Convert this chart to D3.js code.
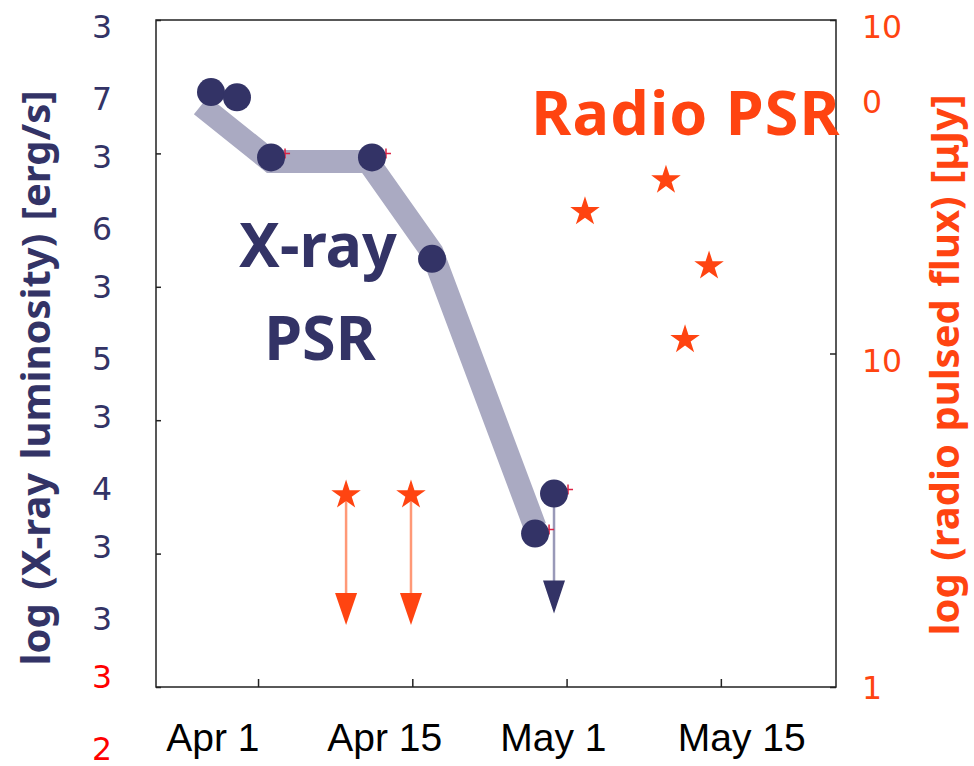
<!DOCTYPE html>
<html>
<head>
<meta charset="utf-8">
<script src="https://cdn.jsdelivr.net/npm/d3@7"></script>
<style>
  html, body { margin: 0; padding: 0; background: #fff; }
  svg { display: block; }
</style>
</head>
<body>
<div class="chart"></div>
<script>
// data, days since Apr 1
const xrayDay = [-4.27, -1.91, 1.18, 10.34, 15.79, 25.14];
const xrayLogL = [36.46, 36.42, 35.97, 35.97, 35.21, 33.15];
const xrayLimitDay = [26.86];
const xrayLimitLogL = [33.45];
const modelDay = [-5.17, 1.18, 9.98, 15.79, 25.14];
const modelLogL = [36.36, 35.94, 35.94, 35.26, 33.2];
const radioDay = [29.67, 37.02, 40.93, 38.75];
const radioFlux = [26.6, 33.1, 18.3, 11.0];
const radioLimitDay = [7.99, 13.88];
const radioLimitFlux = [3.79, 3.79];

// tick labels
const xTickDays = [0, 14, 28, 42];
const xTickLabels = ["Apr 1", "Apr 15", "May 1", "May 15"];
const xLabelDays = [-4.1, 11.5, 26.8, 43.9];
const leftTicks = [37, 36, 35, 34, 33, 32];
const rightTicks = [100, 10, 1];

// setup chart
const width = 974;
const height = 766;
const plot = { left: 156, right: 836, top: 20, bottom: 687 };
const navy = "#333366";
const orange = "#ff4411";

const svg = d3.select(".chart")
   .append("svg")
   .attr("width", width)
   .attr("height", height);

const x = d3.scaleLinear().domain([-9.26, 52.45]).range([plot.left, plot.right]);
const yL = d3.scaleLinear().domain([32, 37]).range([plot.bottom, plot.top]);
const yR = d3.scaleLog().domain([1, 100]).range([plot.bottom, plot.top]);
// the left labels sit on a slightly tighter spacing than the ticks
const yLabel = d3.scaleLinear().domain([37, 32]).range([27, 677]);

// model band
svg.append("path")
   .datum(modelDay.map((d, i) => [d, modelLogL[i]]))
   .attr("d", d3.line().x((d) => x(d[0])).y((d) => yL(d[1])))
   .attr("fill", "none")
   .attr("stroke", "#aaaac2")
   .attr("stroke-width", 23)
   .attr("stroke-linejoin", "miter");

// radio upper limits
const rl = svg.append("g");
radioLimitDay.forEach((d, i) => {
   const cx = x(d), cy = yR(radioLimitFlux[i]);
   rl.append("line")
      .attr("x1", cx).attr("x2", cx)
      .attr("y1", cy).attr("y2", cy + 100)
      .attr("stroke", "#ff9977").attr("stroke-width", 2.5);
   rl.append("path")
      .attr("d", `M${cx - 11},${cy + 99} L${cx + 11},${cy + 99} L${cx},${cy + 131} Z`)
      .attr("fill", orange);
   rl.append("path")
      .attr("transform", `translate(${cx},${cy + 1})`)
      .attr("d", d3.symbol(d3.symbolStar, 270)())
      .attr("fill", orange);
});

// x-ray upper limit
xrayLimitDay.forEach((d, i) => {
   const cx = x(d), cy = yL(xrayLimitLogL[i]);
   svg.append("line")
      .attr("x1", cx).attr("x2", cx)
      .attr("y1", cy).attr("y2", cy + 90)
      .attr("stroke", "#9999b8").attr("stroke-width", 2.5);
   svg.append("path")
      .attr("d", `M${cx - 11},${cy + 87} L${cx + 11},${cy + 87} L${cx},${cy + 120} Z`)
      .attr("fill", navy);
});

// small red error markers
const errIdx = [2, 3, 5];
const errPts = errIdx.map((i) => [x(xrayDay[i]), yL(xrayLogL[i])])
   .concat(xrayLimitDay.map((d, i) => [x(d), yL(xrayLimitLogL[i])]));
errPts.forEach(([px, py]) => {
   svg.append("path")
      .attr("d", `M${px + 9},${py - 4} h10 M${px + 14},${py - 9} v10`)
      .attr("stroke", "#dd2244").attr("stroke-width", 1.5);
});

// x-ray detections
svg.selectAll("circle.xray")
   .data(xrayDay.map((d, i) => [d, xrayLogL[i]]).concat(xrayLimitDay.map((d, i) => [d, xrayLimitLogL[i]])))
   .enter()
   .append("circle")
   .attr("class", "xray")
   .attr("cx", (d) => x(d[0]))
   .attr("cy", (d) => yL(d[1]))
   .attr("r", 14)
   .attr("fill", navy);

// radio detections
svg.selectAll("path.star")
   .data(radioDay.map((d, i) => [d, radioFlux[i]]))
   .enter()
   .append("path")
   .attr("class", "star")
   .attr("transform", (d) => `translate(${x(d[0])},${yR(d[1])})`)
   .attr("d", d3.symbol(d3.symbolStar, 270)())
   .attr("fill", orange);

// frame
svg.append("rect")
   .attr("x", plot.left).attr("y", plot.top)
   .attr("width", plot.right - plot.left)
   .attr("height", plot.bottom - plot.top)
   .attr("fill", "none")
   .attr("stroke", "#222")
   .attr("stroke-width", 1.5);

// axes
svg.append("g")
   .attr("transform", `translate(0, ${plot.bottom})`)
   .call(d3.axisTop(x).tickValues(xTickDays).tickSize(8).tickFormat(""))
   .call((g) => g.select(".domain").remove())
   .call((g) => g.selectAll("line").attr("stroke", "#222").attr("stroke-width", 1.5));

svg.append("g")
   .attr("transform", `translate(${plot.left}, 0)`)
   .call(d3.axisRight(yL).tickValues(leftTicks).tickSize(5).tickFormat(""))
   .call((g) => g.select(".domain").remove())
   .call((g) => g.selectAll("line").attr("stroke", "#222").attr("stroke-width", 1.5));

svg.append("g")
   .attr("transform", `translate(${plot.right}, 0)`)
   .call(d3.axisLeft(yR).tickValues(rightTicks).tickSize(6).tickFormat(""))
   .call((g) => g.select(".domain").remove())
   .call((g) => g.selectAll("line").attr("stroke", "#222").attr("stroke-width", 1.5));

// x tick labels
svg.selectAll("text.xlab")
   .data(xTickLabels)
   .enter()
   .append("text")
   .attr("class", "xlab")
   .attr("x", (d, i) => x(xLabelDays[i]))
   .attr("y", 751)
   .attr("text-anchor", "middle")
   .attr("font-family", "Liberation Sans, Arial, sans-serif")
   .attr("font-size", 39)
   .attr("fill", "#000")
   .text((d) => d);

// left tick labels, digits stacked
leftTicks.forEach((t) => {
   const digits = String(t).split("");
   digits.forEach((c, j) => {
      svg.append("text")
         .attr("x", 102)
         .attr("y", yLabel(t) + j * 72)
         .attr("dy", "0.36em")
         .attr("text-anchor", "middle")
         .attr("font-family", "DejaVu Sans, sans-serif")
         .attr("font-size", 31.5)
         .attr("fill", t === 32 ? "#ff0000" : navy)
         .text(c);
   });
});

// right tick labels
rightTicks.forEach((t) => {
   const s = String(t);
   const parts = s.length > 2 ? [s.slice(0, 2), s.slice(2)] : [s];
   parts.forEach((p, j) => {
      svg.append("text")
         .attr("x", 862)
         .attr("y", yR(t) + (t === 1 ? 1 : 7) + j * 75)
         .attr("dy", "0.36em")
         .attr("font-family", "DejaVu Sans, sans-serif")
         .attr("font-size", 31.5)
         .attr("fill", orange)
         .text(p);
   });
});

// axis titles
svg.append("text")
   .attr("transform", "translate(50, 378) rotate(-90)")
   .attr("text-anchor", "middle")
   .attr("font-family", "Noto Sans, sans-serif")
   .attr("font-weight", "bold")
   .attr("font-size", 40)
   .attr("word-spacing", 3)
   .attr("fill", navy)
   .text("log (X-ray luminosity) [erg/s]");

svg.append("text")
   .attr("transform", "translate(959, 365) rotate(-90)")
   .attr("text-anchor", "middle")
   .attr("font-family", "Noto Sans, sans-serif")
   .attr("font-weight", "bold")
   .attr("font-size", 40)
   .attr("word-spacing", 2)
   .attr("fill", orange)
   .text("log (radio pulsed flux) [μJy]");

// annotations
const note = (txt, tx, ty, color, ls) =>
   svg.append("text")
      .attr("x", tx).attr("y", ty)
      .attr("text-anchor", "middle")
      .attr("font-family", "Noto Sans, sans-serif")
      .attr("font-weight", "bold")
      .attr("font-size", 61)
      .attr("letter-spacing", ls)
      .attr("fill", color)
      .text(txt);
note("X-ray", 318, 267, navy, 0);
note("PSR", 320, 360, navy, 0);
note("Radio PSR", 686, 135, orange, 1.2);
</script>
</body>
</html>
